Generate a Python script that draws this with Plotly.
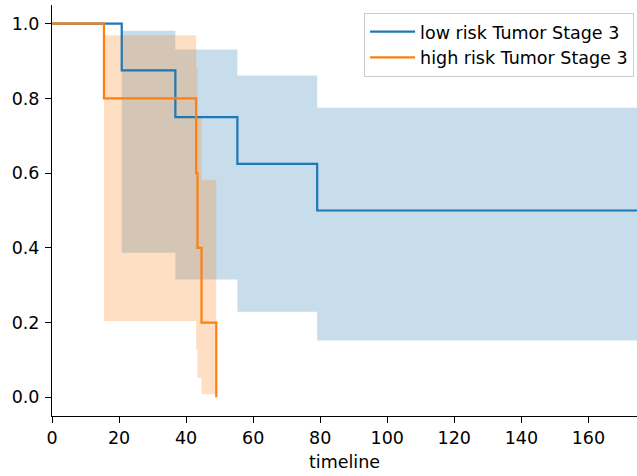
import plotly.graph_objects as go

# Kaplan-Meier estimates
low_times = [0, 20.8, 36.8, 55.3, 79.1, 174.5]
low_surv = [1.0, 0.875, 0.75, 0.625, 0.5, 0.5]
low_upper = [1.0, 0.981, 0.931, 0.861, 0.775, 0.775]
low_lower = [1.0, 0.387, 0.315, 0.229, 0.152, 0.152]

high_times = [0, 15.5, 43.0, 43.4, 44.6, 49.0]
high_surv = [1.0, 0.8, 0.6, 0.4, 0.2, 0.0]
high_upper = [1.0, 0.969, 0.882, 0.753, 0.582, 0.582]
high_lower = [1.0, 0.204, 0.126, 0.052, 0.008, 0.008]

names = ["low risk Tumor Stage 3", "high risk Tumor Stage 3"]
x_ticks = [0, 20, 40, 60, 80, 100, 120, 140, 160]
y_ticks = [0.0, 0.2, 0.4, 0.6, 0.8, 1.0]

BLUE = "#1f77b4"
ORANGE = "#ff7f0e"
FONT = "DejaVu Sans"
FS = 17.5

fig = go.Figure()

def add_band(t, lo, hi, fill):
    fig.add_trace(go.Scatter(x=t, y=lo, mode="lines", line=dict(width=0, shape="hv"),
                             showlegend=False, hoverinfo="skip"))
    fig.add_trace(go.Scatter(x=t, y=hi, mode="lines", line=dict(width=0, shape="hv"),
                             fill="tonexty", fillcolor=fill, showlegend=False, hoverinfo="skip"))

add_band(low_times, low_lower, low_upper, "rgba(31,119,180,0.25)")
add_band(high_times, high_lower, high_upper, "rgba(255,127,14,0.25)")

fig.add_trace(go.Scatter(x=low_times, y=low_surv, mode="lines", name=names[0],
                         line=dict(color=BLUE, width=2.2, shape="hv")))
fig.add_trace(go.Scatter(x=high_times, y=high_surv, mode="lines", name=names[1],
                         line=dict(color=ORANGE, width=2.2, shape="hv")))

axis_common = dict(showgrid=False, zeroline=False, showline=True, linecolor="black",
                   linewidth=1, ticks="outside", ticklen=6, tickwidth=1, tickcolor="black",
                   tickfont=dict(family=FONT, size=FS, color="black"), mirror=False,
                   automargin=False)

fig.update_xaxes(range=[0, 174.5], tickvals=x_ticks, ticktext=[str(v) for v in x_ticks],
                 title=dict(text="timeline", font=dict(family=FONT, size=FS, color="black"),
                            standoff=8),
                 **axis_common)
fig.update_yaxes(range=[-0.05, 1.05], tickvals=y_ticks, ticktext=[f"{v:.1f}" for v in y_ticks],
                 ticklabelstandoff=2, **axis_common)

fig.update_layout(
    width=637, height=476,
    margin=dict(l=52, r=0, t=5, b=60, autoexpand=False),
    plot_bgcolor="white", paper_bgcolor="white",
    font=dict(family=FONT, size=FS, color="black"),
    legend=dict(x=0.995, y=0.981, xanchor="right", yanchor="top", traceorder="normal",
                itemwidth=45,
                bgcolor="rgba(255,255,255,0.8)", bordercolor="#cccccc", borderwidth=1,
                font=dict(family=FONT, size=FS, color="black")),
    showlegend=True,
)

fig.write_html("out.html", config={"displayModeBar": False},
               post_script="document.body.style.margin='0px';document.body.style.overflow='hidden';")
